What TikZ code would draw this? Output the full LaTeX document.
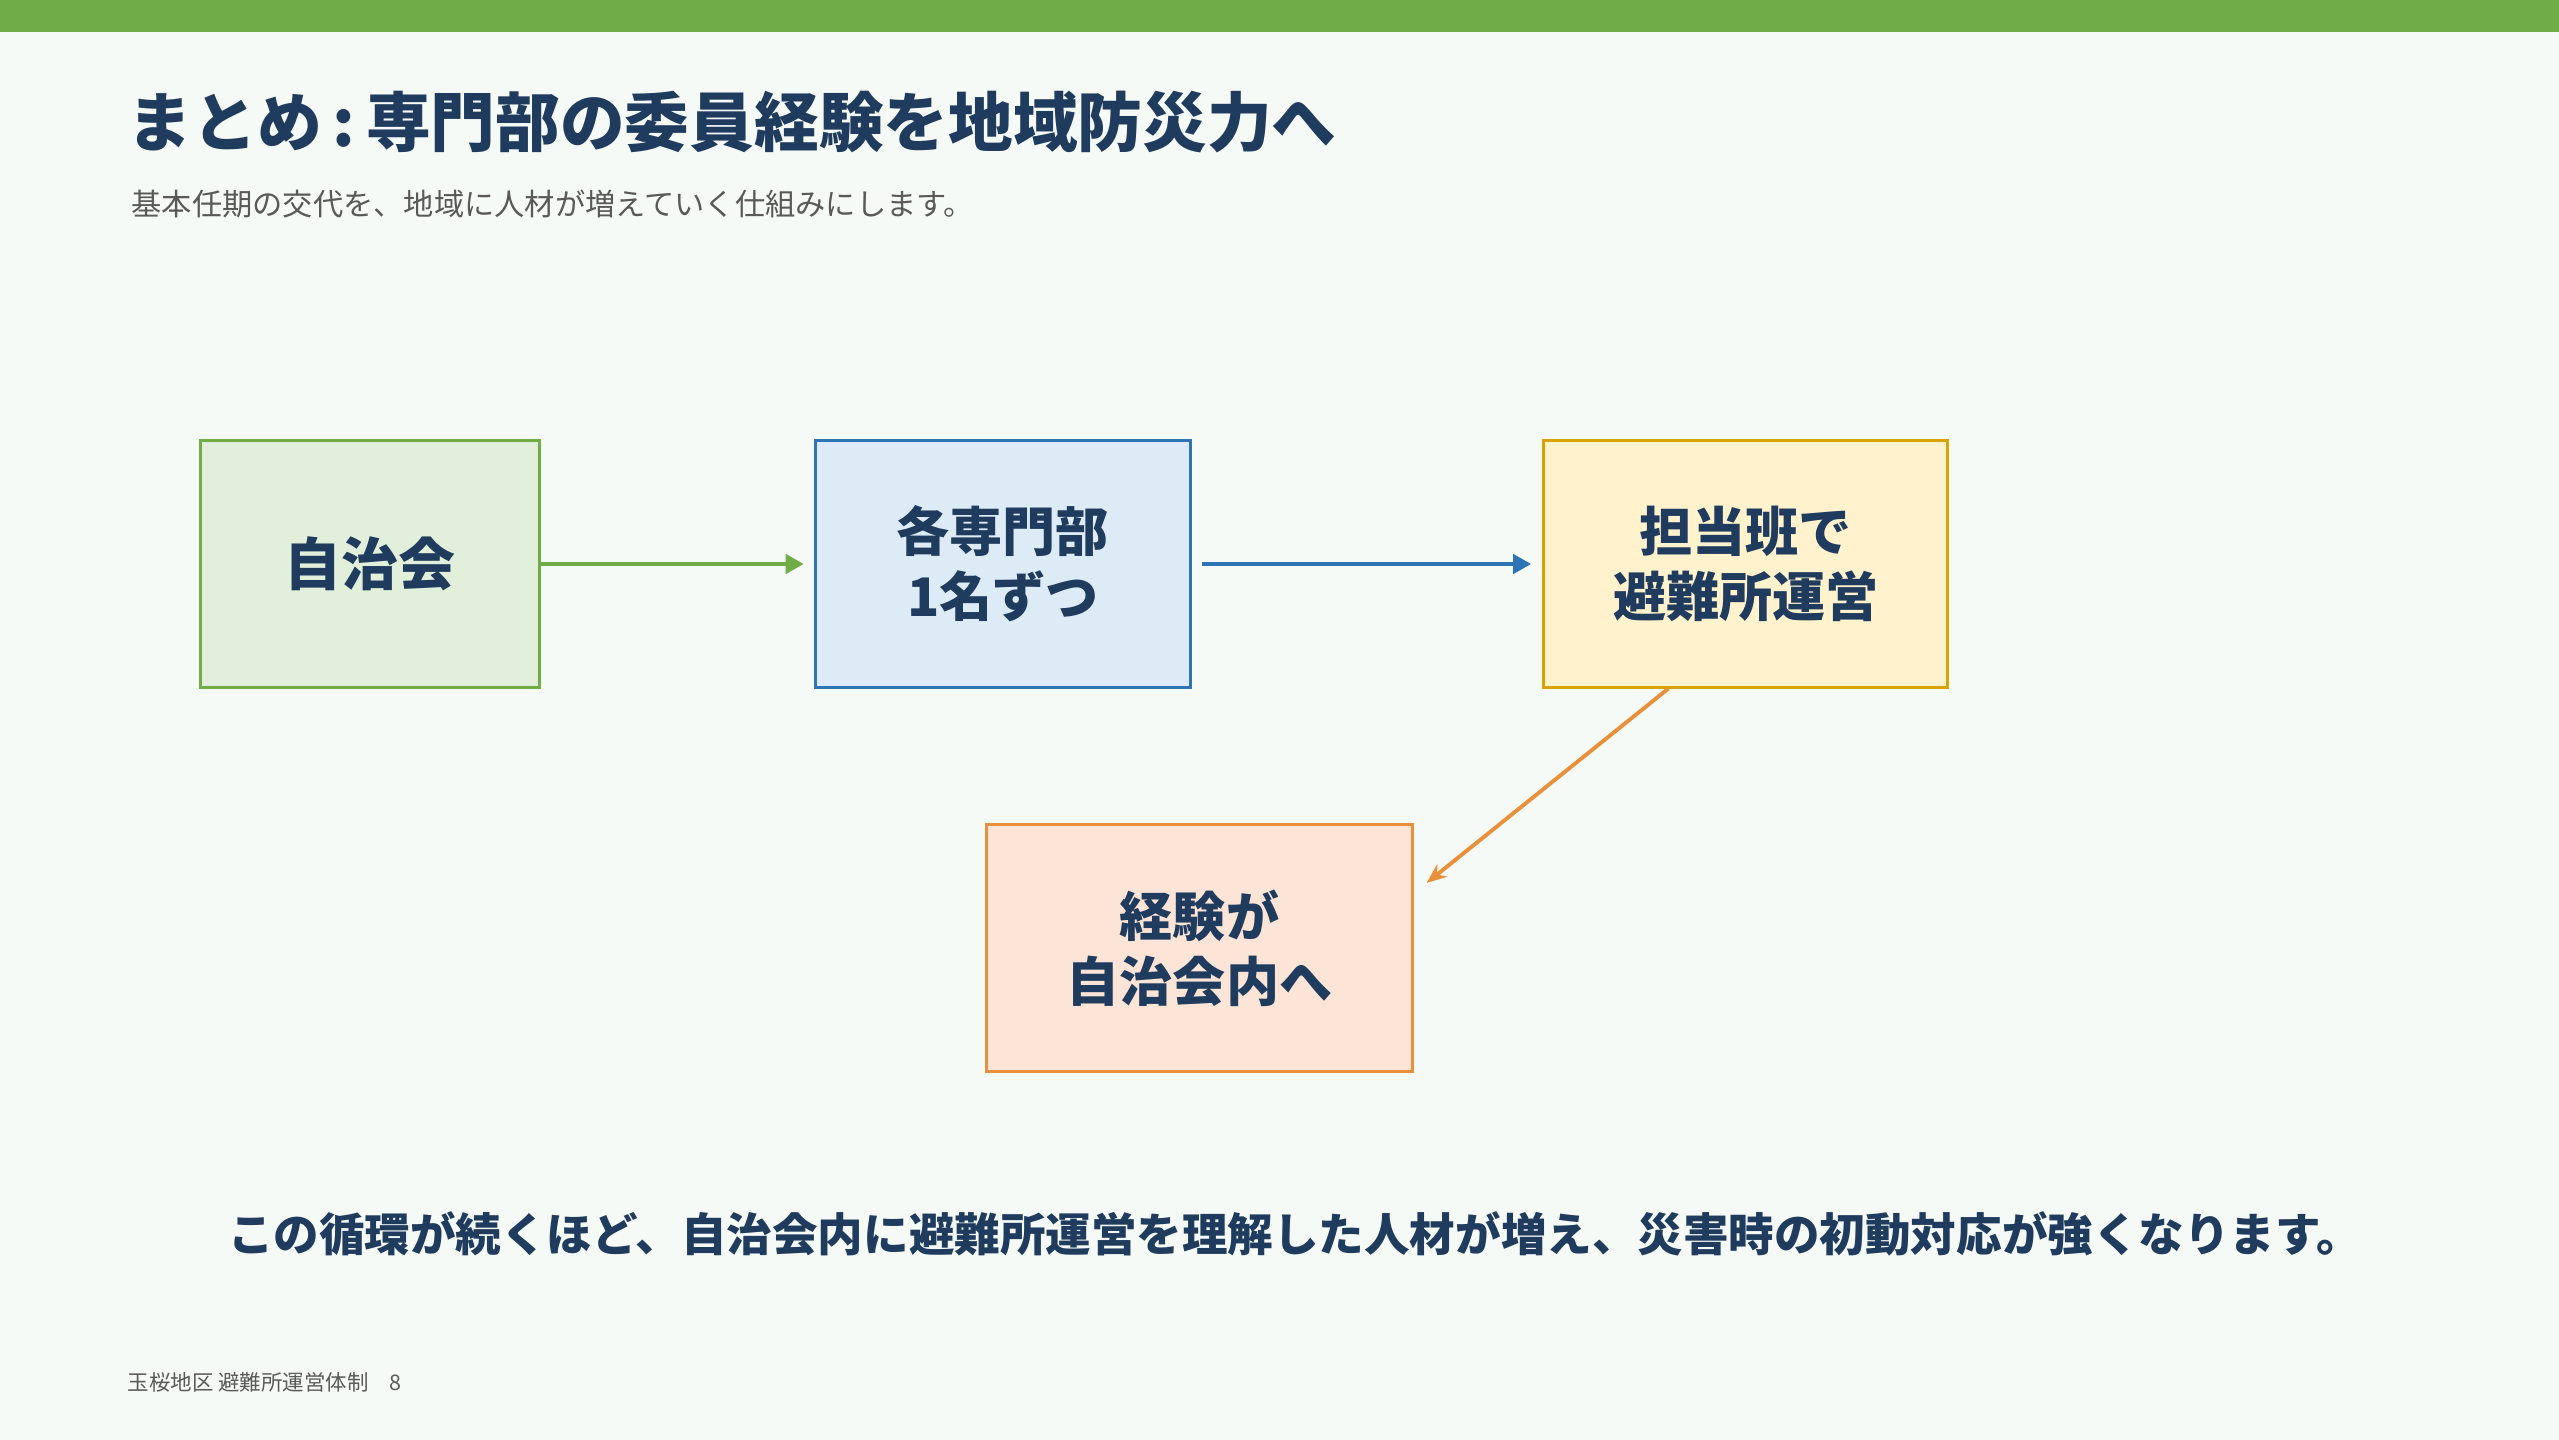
\documentclass[tikz,border=0pt]{standalone}
\usepackage{fontspec}
\setmainfont{Noto Sans CJK JP}
\usetikzlibrary{arrows.meta,positioning,calc}

\definecolor{bgpage}{HTML}{F6FAF6}
\definecolor{barline}{HTML}{70AD47}
\definecolor{navy}{HTML}{1F3B5E}
\definecolor{subgray}{HTML}{595959}
\definecolor{greenfill}{HTML}{E2EFDA}
\definecolor{bluefill}{HTML}{DDEBF7}
\definecolor{blueline}{HTML}{2E75B6}
\definecolor{yellowfill}{HTML}{FFF2CC}
\definecolor{yellowline}{HTML}{D9A400}
\definecolor{orangefill}{HTML}{FCE4D6}
\definecolor{orangeline}{HTML}{E8913A}

\begin{document}
\begin{tikzpicture}[x=0.01cm,y=-0.01cm,
  box/.style={draw,line width=0.85pt,inner sep=0pt,align=center,text=navy,
    minimum height=2.46cm,font=\bfseries\fontsize{15.1pt}{18.5pt}\selectfont},
  flow/.style={line width=1.4pt,-{Triangle[length=0.18cm,width=0.19cm]}}]
\useasboundingbox (0,0) rectangle (2559,1440);
\fill[bgpage] (0,0) rectangle (2559,1440);
\fill[barline] (0,0) rectangle (2559,32);

% title and lead
\node (title) [anchor=west,inner sep=0pt,text=navy,
  font=\bfseries\fontsize{18.4pt}{22pt}\selectfont] at (127,122)
  {まとめ\,:\,専門部の委員経験を地域防災力へ};
\node (lead) [anchor=west,inner sep=0pt,text=subgray,
  font=\fontsize{8.6pt}{11pt}\selectfont] at (131,204)
  {基本任期の交代を、地域に人材が増えていく仕組みにします。};

% boxes
\node (jichi) [box,fill=greenfill,draw=barline,minimum width=3.38cm,
  font=\bfseries\fontsize{16.2pt}{19pt}\selectfont] at (370,564) {自治会};
\node (senmon) [box,fill=bluefill,draw=blueline,minimum width=3.75cm,
  right=2.73cm of jichi] {各専門部\\1名ずつ};
\node (tantou) [box,fill=yellowfill,draw=yellowline,minimum width=4.04cm,
  right=3.50cm of senmon] {担当班で\\避難所運営};
\node (keiken) [box,fill=orangefill,draw=orangeline,minimum width=4.25cm,
  minimum height=2.47cm] at (1199.5,948) {経験が\\自治会内へ};

% connectors
\draw[flow,barline,shorten >=0.1cm] (jichi) -- (senmon);
\draw[flow,blueline,shorten <=0.1cm,shorten >=0.11cm] (senmon) -- (tantou);
\coordinate (from) at ($(tantou.south west)!0.31!(tantou.south east)$);
\coordinate (to) at ([xshift=0.13cm,yshift=-0.6cm]keiken.north east);
\draw[orangeline,line width=1.1pt,-{Stealth[length=0.2cm,width=0.16cm]}] (from) -- (to);

% closing line and footer
\node (close) [inner sep=0pt,text=navy,
  font=\bfseries\fontsize{12.95pt}{16pt}\selectfont] at (1295,1234)
  {この循環が続くほど、自治会内に避難所運営を理解した人材が増え、災害時の初動対応が強くなります。};
\node (foot) [anchor=west,inner sep=0pt,text=subgray,
  font=\fontsize{6.1pt}{8pt}\selectfont] at (127,1382)
  {玉桜地区 避難所運営体制\quad 8};
\end{tikzpicture}
\end{document}
